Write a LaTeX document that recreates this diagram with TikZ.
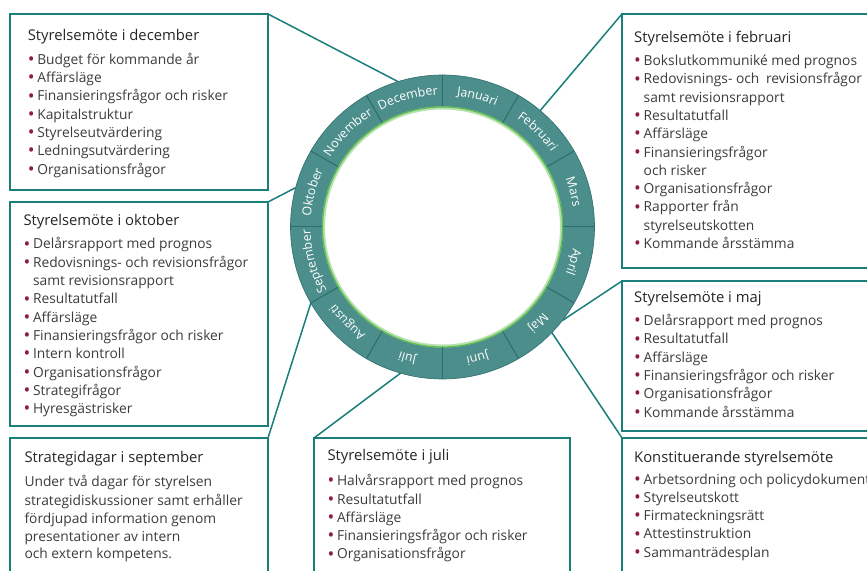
\documentclass[tikz,border=0pt]{standalone}
\usepackage{fontspec}
\setmainfont{Open Sans}
\usetikzlibrary{decorations.text}
\definecolor{tealline}{HTML}{1A7F7B}
\definecolor{ringfill}{HTML}{4B8E8B}
\definecolor{ringsep}{HTML}{2C6E6C}
\definecolor{ringgreen}{HTML}{62BD4F}
\definecolor{bulletc}{HTML}{8E1C42}
\definecolor{titlec}{HTML}{262626}
\definecolor{bodyc}{HTML}{3C3C3C}
\newcommand\bi{\makebox[9.5pt][l]{\raisebox{-1.2pt}{\textcolor{bulletc}{\fontsize{18}{18}\selectfont\textbullet}}}}
\newcommand\ci{\hspace*{9.5pt}}
\newcommand\ttl[1]{\rule{0pt}{12pt}{\color{titlec}\fontsize{14.8}{18.3}\selectfont #1}}
\newcommand\mfont{\fontsize{12.4}{12.4}\selectfont}
\newcommand\monthlabel[2]{%
  \path[decorate, decoration={text along path, text={|\mfont|#2}, text align=center, text color=white}]
    ([shift={(#1+20:132)}]ring.center) arc[start angle=#1+20, end angle=#1-20, radius=132];}
\tikzset{
  boxframe/.style={draw=tealline, line width=1.5pt, rectangle, anchor=north west, inner sep=0pt, outer sep=0pt},
  conn/.style={draw=tealline, line width=1.5pt},
  txtbox/.style={anchor=north west, inner sep=0pt, outer sep=0pt, align=left, font=\fontsize{13.8}{18.3}\selectfont, text=bodyc},
}
\begin{document}
\begin{tikzpicture}[x=1pt,y=1pt]
\useasboundingbox (0,0) rectangle (867,570);
\clip (0,0) rectangle (867,570);
\fill[white] (0,0) rectangle (867,570);

% ring node (background)
\node[circle, minimum size=304pt, inner sep=0pt, outer sep=0pt] (ring) at (442.5,343) {};

% boxes
\node[boxframe, minimum width=258pt, minimum height=176pt] (dec) at (10,556) {};
\node[boxframe, minimum width=255pt, minimum height=254pt] (feb) at (622,556) {};
\node[boxframe, minimum width=258pt, minimum height=224pt] (okt) at (10,368) {};
\node[boxframe, minimum width=255pt, minimum height=150pt] (maj) at (622,289) {};
\node[boxframe, minimum width=255pt, minimum height=140pt] (kon) at (622,132) {};
\node[boxframe, minimum width=258pt, minimum height=140pt] (sep) at (10,132) {};
\node[boxframe, minimum width=256pt, minimum height=140pt] (jul) at (314,132) {};

% connectors
\draw[conn] (dec.north east) -- (ring.107);
\draw[conn] (feb.north west) -- (ring.50);
\draw[conn] (okt.north east) -- (ring.165);
\draw[conn] (sep.north east) -- (ring.210);
\draw[conn] (jul.north west) -- (ring.254);
\draw[conn] (maj.north west) -- (ring.-38);
\draw[conn] (kon.north west) -- (ring.-44);

% ring
\fill[ringfill] (ring.center) circle (152);
\draw[ringsep, line width=0.6pt] (ring.center) circle (152);
\fill[white] (ring.center) circle (120);
\draw[ringgreen!45, line width=3pt] (ring.center) circle (119);
\draw[ringgreen, line width=1.2pt] (ring.center) circle (120);
\foreach \a in {0,30,...,330}
  \draw[ringsep, line width=1pt] ([shift={(\a:120.5)}]ring.center) -- ([shift={(\a:152)}]ring.center);

\monthlabel{75}{Januari}
\monthlabel{45}{Februari}
\monthlabel{15}{Mars}
\monthlabel{-15}{April}
\monthlabel{-45}{Maj}
\monthlabel{-75}{Juni}
\monthlabel{-105}{Juli}
\monthlabel{-135}{Augusti}
\monthlabel{-165}{September}
\monthlabel{165}{Oktober}
\monthlabel{135}{November}
\monthlabel{105}{December}

% texts
\node[txtbox] (dect) at (27.8,541) {\ttl{Styrelsemöte i december}\\[5pt]
\bi Budget för kommande år\\
\bi Affärsläge\\
\bi Finansieringsfrågor och risker\\
\bi Kapitalstruktur\\
\bi Styrelseutvärdering\\
\bi Ledningsutvärdering\\
\bi Organisationsfrågor};

\node[txtbox] (febt) at (634.2,539.7) {\ttl{Styrelsemöte i februari}\\[5pt]
\bi Bokslutkommuniké med prognos\\
\bi Redovisnings- och\hspace{3pt} revisionsfrågor\\
\ci samt revisionsrapport\\
\bi Resultatutfall\\
\bi Affärsläge\\
\bi Finansieringsfrågor\\
\ci och risker\\
\bi Organisationsfrågor\\
\bi Rapporter från\\
\ci styrelseutskotten\\
\bi Kommande årsstämma};

\node[txtbox] (oktt) at (23.5,356.3) {\ttl{Styrelsemöte i oktober}\\[5pt]
\bi Delårsrapport med prognos\\
\bi Redovisnings- och revisionsfrågor\\
\ci samt revisionsrapport\\
\bi Resultatutfall\\
\bi Affärsläge\\
\bi Finansieringsfrågor och risker\\
\bi Intern kontroll\\
\bi Organisationsfrågor\\
\bi Strategifrågor\\
\bi Hyresgästrisker};

\node[txtbox] (majt) at (634.2,279.7) {\ttl{Styrelsemöte i maj}\\[5pt]
\bi Delårsrapport med prognos\\
\bi Resultatutfall\\
\bi Affärsläge\\
\bi Finansieringsfrågor och risker\\
\bi Organisationsfrågor\\
\bi Kommande årsstämma};

\node[txtbox] (kont) at (634.2,119.7) {\ttl{Konstituerande styrelsemöte}\\[3.4pt]
\bi Arbetsordning och policydokument\\
\bi Styrelseutskott\\
\bi Firmateckningsrätt\\
\bi Attestinstruktion\\
\bi Sammanträdesplan};

\node[txtbox] (jult) at (327.5,121.3) {\ttl{Styrelsemöte i juli}\\[6.7pt]
\bi Halvårsrapport med prognos\\
\bi Resultatutfall\\
\bi Affärsläge\\
\bi Finansieringsfrågor och risker\\
\bi Organisationsfrågor};

\node[txtbox, font=\fontsize{13.8}{18}\selectfont] (sept) at (24.5,119.7) {\ttl{Strategidagar i september}\\[6.7pt]
Under två dagar för styrelsen\\
strategidiskussioner samt erhåller\\
fördjupad information genom\\
presentationer av intern\\
och extern kompetens.};
\end{tikzpicture}
\end{document}
